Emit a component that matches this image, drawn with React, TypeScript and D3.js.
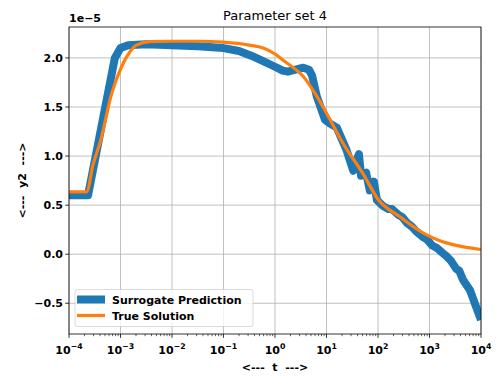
import React from "react";
import * as d3 from "d3";

// values in units of 1e-5, x as log10(t)
const blueLogT = [-4, -3.63, -3.11, -3.0, -2.85, -2.5, -2.0, -1.5, -1.0, -0.7, -0.45, -0.2, 0.0, 0.15, 0.25, 0.4, 0.55, 0.66, 0.72, 0.81, 0.97, 1.07, 1.2, 1.39, 1.52, 1.6, 1.63, 1.67, 1.77, 1.84, 1.92, 1.98, 2.1, 2.2, 2.27, 2.4, 2.47, 2.56, 2.66, 2.75, 2.86, 2.95, 3.05, 3.15, 3.26, 3.33, 3.42, 3.52, 3.58, 3.65, 3.79, 3.88, 4.0];
const blueY = [0.6, 0.6, 2.0, 2.1, 2.13, 2.14, 2.13, 2.12, 2.1, 2.07, 2.02, 1.96, 1.91, 1.87, 1.86, 1.88, 1.9, 1.88, 1.82, 1.61, 1.37, 1.33, 1.29, 1.06, 0.85, 0.98, 1.02, 0.8, 0.83, 0.65, 0.74, 0.55, 0.49, 0.46, 0.46, 0.4, 0.38, 0.32, 0.28, 0.23, 0.18, 0.15, 0.09, 0.06, 0.01, -0.02, -0.07, -0.15, -0.17, -0.26, -0.37, -0.5, -0.67];

const orangeLogT = [-4, -3.66, -3.53, -3.4, -3.17, -2.98, -2.82, -2.69, -2.43, -2.0, -1.5, -1.0, -0.5, -0.23, 0.0, 0.2, 0.55, 0.81, 1.07, 1.32, 1.71, 2.0, 2.43, 2.9, 3.19, 3.52, 4.0];
const orangeY = [0.635, 0.635, 0.92, 1.13, 1.64, 1.91, 2.06, 2.13, 2.165, 2.17, 2.17, 2.16, 2.13, 2.1, 2.04, 1.96, 1.81, 1.61, 1.37, 1.13, 0.82, 0.56, 0.38, 0.21, 0.14, 0.09, 0.048];

const xTickExps = [-4, -3, -2, -1, 0, 1, 2, 3, 4];
const yTicks = [-0.5, 0.0, 0.5, 1.0, 1.5, 2.0];
const seriesNames = ["Surrogate Prediction", "True Solution"];
const colors = ["#1f77b4", "#ff7f0e"];

const W = 496, H = 376;
const L = 69, R = 481, T = 27, B = 334;
const font = "DejaVu Sans, sans-serif";

export default function App() {
  const x = d3.scaleLog().domain([1e-4, 1e4]).range([L, R]);
  const y = d3.scaleLinear().domain([-0.813, 2.315]).range([B, T]);
  const blueLine = d3
    .line<[number, number]>()
    .x((d) => x(Math.pow(10, d[0])))
    .y((d) => y(d[1]))
    .curve(d3.curveLinear)(blueLogT.map((v, i) => [v, blueY[i]]));
  const orangeLine = d3
    .line<[number, number]>()
    .x((d) => x(Math.pow(10, d[0])))
    .y((d) => y(d[1]))
    .curve(d3.curveMonotoneX)(orangeLogT.map((v, i) => [v, orangeY[i]]));

  const minor: number[] = [];
  for (let e = -4; e < 4; e++) for (let k = 2; k <= 9; k++) minor.push(k * Math.pow(10, e));

  const fmt = (v: number) => (v < 0 ? "\u2212" : "") + Math.abs(v).toFixed(1);

  return (
    <svg width={W} height={H} style={{ position: "absolute", left: 0, top: 0 }} fontFamily={font}>
      <rect x={0} y={0} width={W} height={H} fill="#fff" />
      <defs>
        <clipPath id="clip">
          <rect x={L} y={T} width={R - L} height={B - T} />
        </clipPath>
      </defs>
      {xTickExps.map((e) => (
        <line key={"gx" + e} x1={x(Math.pow(10, e))} x2={x(Math.pow(10, e))} y1={T} y2={B} stroke="#b0b0b0" strokeWidth={0.8} />
      ))}
      {yTicks.map((v) => (
        <line key={"gy" + v} x1={L} x2={R} y1={y(v)} y2={y(v)} stroke="#b0b0b0" strokeWidth={0.8} />
      ))}
      <g clipPath="url(#clip)">
        <path d={blueLine || ""} fill="none" stroke={colors[0]} strokeWidth={8} strokeLinejoin="round" strokeLinecap="butt" />
        <path d={orangeLine || ""} fill="none" stroke={colors[1]} strokeWidth={3.2} strokeLinejoin="round" />
      </g>
      <rect x={L} y={T} width={R - L} height={B - T} fill="none" stroke="#000" strokeWidth={0.8} />
      {minor.map((m, i) => (
        <line key={"mt" + i} x1={x(m)} x2={x(m)} y1={B} y2={B + 2.2} stroke="#000" strokeWidth={0.6} />
      ))}
      {xTickExps.map((e) => (
        <g key={"xt" + e}>
          <line x1={x(Math.pow(10, e))} x2={x(Math.pow(10, e))} y1={B} y2={B + 3.8} stroke="#000" strokeWidth={0.8} />
          <text x={x(Math.pow(10, e))} y={354} textAnchor="middle" fontSize={11} fontWeight="bold">
            10
            <tspan dy={-5} fontSize={7.8}>{(e < 0 ? "\u2212" : "") + Math.abs(e)}</tspan>
          </text>
        </g>
      ))}
      {yTicks.map((v) => (
        <g key={"yt" + v}>
          <line x1={L - 3.8} x2={L} y1={y(v)} y2={y(v)} stroke="#000" strokeWidth={0.8} />
          <text x={L - 6} y={y(v) + 4} textAnchor="end" fontSize={11} fontWeight="bold">
            {fmt(v)}
          </text>
        </g>
      ))}
      <text x={L} y={22} fontSize={11} fontWeight="bold">1e{"\u2212"}5</text>
      <text x={(L + R) / 2} y={20} textAnchor="middle" fontSize={13}>Parameter set 4</text>
      <text x={(L + R) / 2} y={371} textAnchor="middle" fontSize={11} fontWeight="bold" style={{ whiteSpace: "pre" }}>
        {"<---  t  --->"}
      </text>
      <text transform={`translate(26,${(T + B) / 2}) rotate(-90)`} textAnchor="middle" fontSize={11} fontWeight="bold" style={{ whiteSpace: "pre" }}>
        {"<---  y2  --->"}
      </text>
      <rect x={75} y={289.5} width={178} height={37} rx={2.5} fill="#fff" fillOpacity={0.8} stroke="#d0d0d0" strokeWidth={0.8} />
      <line x1={77} x2={105} y1={299.5} y2={299.5} stroke={colors[0]} strokeWidth={8} />
      <text x={112} y={303.5} fontSize={11} fontWeight="bold">{seriesNames[0]}</text>
      <line x1={77} x2={105} y1={315.5} y2={315.5} stroke={colors[1]} strokeWidth={3.2} />
      <text x={112} y={319.5} fontSize={11} fontWeight="bold">{seriesNames[1]}</text>
    </svg>
  );
}
